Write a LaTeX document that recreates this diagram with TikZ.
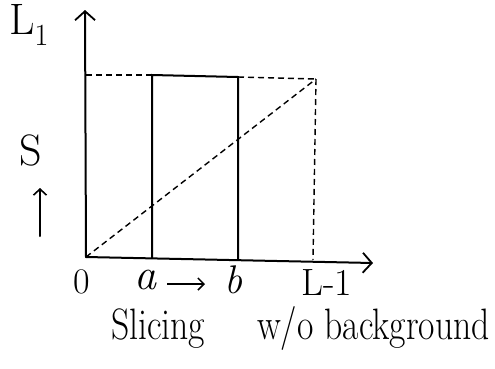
\documentclass[tikz,border=0pt]{standalone}
\usepackage{fontspec}
\usetikzlibrary{arrows.meta}
\begin{document}
\begin{tikzpicture}[x=1pt,y=-1pt,
  solidline/.style={line width=2pt, line cap=round},
  dashline/.style={line width=1.4pt, dash pattern=on 6pt off 4pt},
  axisarrow/.style={solidline, -{Straight Barb[length=9pt,width=20pt,line width=1.8pt]}},
  lbl/.style={font=\fontsize{38}{40}\selectfont, inner sep=0pt},
  caption/.style={font=\fontsize{44}{48}\selectfont, inner sep=0pt, anchor=base west, xscale=0.81}]
\useasboundingbox (0,0) rectangle (495,368);
% key points
\coordinate (O) at (86,257);
\coordinate (Ytop) at (85,10);
\coordinate (Xend) at (373,263);
\coordinate (Abot) at (152,258);
\coordinate (Atop) at (152,75);
\coordinate (Bbot) at (238,259);
\coordinate (Btop) at (238,77);
\coordinate (Ytick) at (86,75);
\coordinate (P) at (316,79);
\coordinate (Pbot) at (313,260);
% axes
\draw[axisarrow] (O) -- (Ytop);
\draw[axisarrow] (O) -- (Xend);
% slice
\draw[solidline] (Abot) -- (Atop) -- (Btop) -- (Bbot);
\draw[dashline] (Ytick) -- (Atop);
\draw[dashline] (Btop) -- (P);
\draw[dashline] (P) -- (Pbot);
\draw[dashline] (O) -- (P);
% labels
\node[lbl, font=\fontsize{44}{46}\selectfont] (L1) at (29,25) {L\textsubscript{1}};
\node[lbl, font=\fontsize{44}{46}\selectfont] (S) at (31,150) {S};
\coordinate (Sa1) at (40,236);
\coordinate (Sa2) at (40,188);
\draw[solidline, -{Straight Barb[length=6pt,width=13pt,line width=1.6pt]}] (Sa1) -- (Sa2);
\node[lbl, font=\fontsize{36}{38}\selectfont] (zero) at (82,282) {0};
\node[lbl, font=\fontsize{44}{46}\selectfont\itshape] (a) at (145,280) {a};
\node[lbl, font=\fontsize{40}{42}\selectfont\itshape] (b) at (233,280) {b};
\node[lbl] (Lm1) at (327,283) {L-1};
\coordinate (ar1) at (167,284);
\coordinate (ar2) at (205,284);
\draw[line width=1.6pt, -{Straight Barb[length=6pt,width=12pt,line width=1.5pt]}] (ar1) -- (ar2);
\node[caption] (slicing) at (111,339) {Slicing};
\node[caption] (wo) at (257,339) {w/o background};
\end{tikzpicture}
\end{document}
